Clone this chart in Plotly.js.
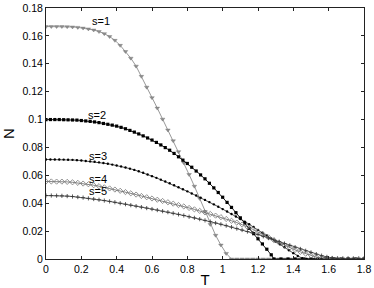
<!DOCTYPE html>
<html><head><meta charset="utf-8">
<script src="https://cdn.plot.ly/plotly-3.0.1.min.js"></script>
<style>html,body{margin:0;padding:0;background:#fff;}#chart{width:374px;height:288px;}</style>
</head><body><div id="chart"></div>
<script>
// s = 1
const T1 = [0,0.03,0.06,0.09,0.12,0.15,0.18,0.21,0.24,0.27,0.30,0.33,0.36,0.39,0.42,0.45,0.48,0.51,0.54,0.57,0.60,0.63,0.66,0.69,0.72,0.75,0.78,0.81,0.84,0.87,0.90,0.93,0.96,0.99,1.02,1.05,1.08,1.11,1.14,1.17,1.20,1.23,1.26,1.29,1.32,1.35,1.38,1.41,1.44,1.47,1.50,1.53,1.56,1.59,1.62,1.65,1.68,1.71,1.74,1.77,1.80];
const N1 = [0.1667,0.1667,0.1667,0.1667,0.1666,0.1664,0.1661,0.1656,0.1650,0.1642,0.1631,0.1616,0.1595,0.1568,0.1532,0.1488,0.1440,0.1383,0.1310,0.1232,0.1157,0.1082,0.1003,0.0925,0.0848,0.0770,0.0690,0.0606,0.0522,0.0434,0.0340,0.0248,0.0170,0.0100,0.0040,0,0,0,0,0,0,0,0,0,0,0,0,0,0,0,0,0,0,0,0,0,0,0,0,0,0];
// s = 2
const T2 = [0,0.025,0.05,0.075,0.1,0.125,0.15,0.175,0.2,0.225,0.25,0.275,0.3,0.325,0.35,0.375,0.4,0.425,0.45,0.475,0.5,0.525,0.55,0.575,0.6,0.625,0.65,0.675,0.7,0.725,0.75,0.775,0.8,0.825,0.85,0.875,0.9,0.925,0.95,0.975,1.0,1.025,1.05,1.075,1.1,1.125,1.15,1.175,1.2,1.225,1.25,1.275,1.29,1.33,1.37,1.41,1.46,1.50,1.54,1.58,1.63,1.67,1.71,1.75,1.80];
const N2 = [0.1000,0.1000,0.1000,0.1000,0.0999,0.0998,0.0997,0.0996,0.0993,0.0990,0.0987,0.0983,0.0978,0.0972,0.0966,0.0960,0.0953,0.0944,0.0934,0.0922,0.0910,0.0897,0.0883,0.0868,0.0853,0.0836,0.0818,0.0799,0.0780,0.0757,0.0733,0.0709,0.0685,0.0658,0.0631,0.0603,0.0575,0.0543,0.0510,0.0477,0.0443,0.0406,0.0370,0.0332,0.0295,0.0258,0.0220,0.0182,0.0145,0.0108,0.0070,0.0030,0,0,0,0,0,0,0,0,0,0,0,0,0];
// s = 3
const T3 = [0,0.025,0.05,0.075,0.1,0.125,0.15,0.175,0.2,0.225,0.25,0.275,0.3,0.325,0.35,0.375,0.4,0.425,0.45,0.475,0.5,0.525,0.55,0.575,0.6,0.625,0.65,0.675,0.7,0.725,0.75,0.775,0.8,0.825,0.85,0.875,0.9,0.925,0.95,0.975,1.0,1.025,1.05,1.075,1.1,1.125,1.15,1.175,1.2,1.225,1.25,1.275,1.3,1.325,1.35,1.375,1.4,1.425,1.45,1.475,1.52,1.56,1.60,1.64,1.68,1.72,1.76,1.80];
const N3 = [0.0714,0.0714,0.0714,0.0714,0.0713,0.0712,0.0711,0.0709,0.0706,0.0703,0.0700,0.0697,0.0693,0.0688,0.0683,0.0677,0.0671,0.0664,0.0656,0.0648,0.0639,0.0629,0.0618,0.0606,0.0594,0.0582,0.0569,0.0556,0.0543,0.0529,0.0515,0.0500,0.0485,0.0470,0.0455,0.0440,0.0424,0.0408,0.0392,0.0375,0.0358,0.0341,0.0323,0.0305,0.0287,0.0268,0.0249,0.0229,0.0209,0.0189,0.0168,0.0147,0.0126,0.0105,0.0084,0.0063,0.0042,0.0022,0.0005,0,0,0,0,0,0,0,0,0];
// s = 4
const T4 = [0,0.03,0.06,0.09,0.12,0.15,0.18,0.21,0.24,0.27,0.30,0.33,0.36,0.39,0.42,0.45,0.48,0.51,0.54,0.57,0.60,0.63,0.66,0.69,0.72,0.75,0.78,0.81,0.84,0.87,0.90,0.93,0.96,0.99,1.02,1.05,1.08,1.11,1.14,1.17,1.20,1.23,1.26,1.29,1.32,1.35,1.38,1.41,1.44,1.47,1.50,1.53,1.56,1.59,1.62,1.65,1.68,1.71,1.74,1.77,1.80];
const N4 = [0.0556,0.0556,0.0555,0.0555,0.0553,0.0550,0.0546,0.0541,0.0536,0.0529,0.0522,0.0514,0.0506,0.0498,0.0489,0.0480,0.0471,0.0462,0.0452,0.0443,0.0434,0.0425,0.0416,0.0407,0.0397,0.0387,0.0377,0.0366,0.0356,0.0345,0.0334,0.0323,0.0311,0.0300,0.0287,0.0274,0.0261,0.0247,0.0230,0.0213,0.0195,0.0175,0.0155,0.0135,0.0116,0.0098,0.0081,0.0065,0.0051,0.0038,0.0026,0.0014,0.0007,0.0002,0,0,0,0,0,0,0];
// s = 5
const T5 = [0,0.03,0.06,0.09,0.12,0.15,0.18,0.21,0.24,0.27,0.30,0.33,0.36,0.39,0.42,0.45,0.48,0.51,0.54,0.57,0.60,0.63,0.66,0.69,0.72,0.75,0.78,0.81,0.84,0.87,0.90,0.93,0.96,0.99,1.02,1.05,1.08,1.11,1.14,1.17,1.20,1.23,1.26,1.29,1.32,1.35,1.38,1.41,1.44,1.47,1.50,1.53,1.56,1.59,1.62,1.65,1.68,1.71,1.74,1.77,1.80];
const N5 = [0.0455,0.0455,0.0454,0.0453,0.0451,0.0448,0.0444,0.0440,0.0435,0.0430,0.0425,0.0419,0.0413,0.0407,0.0400,0.0393,0.0386,0.0379,0.0372,0.0365,0.0358,0.0351,0.0343,0.0336,0.0328,0.0320,0.0312,0.0303,0.0295,0.0286,0.0277,0.0268,0.0258,0.0249,0.0239,0.0229,0.0218,0.0208,0.0197,0.0186,0.0175,0.0163,0.0150,0.0137,0.0124,0.0111,0.0098,0.0085,0.0072,0.0059,0.0047,0.0035,0.0024,0.0015,0.0007,0.0002,0,0,0,0,0];

const labels = ['s=1','s=2','s=3','s=4','s=5'];
const labelT = [0.31,0.29,0.295,0.295,0.295];
const labelN = [0.1705,0.1035,0.0740,0.0575,0.0485];

const font = 'Liberation Sans, Arial, Helvetica, sans-serif';
const traces = [
  {x:T1,y:N1,mode:'lines+markers',line:{color:'#8c8c8c',width:0.9},marker:{symbol:'triangle-down',size:4,color:'#8c8c8c',line:{color:'#777',width:0.4}}},
  {x:T2,y:N2,mode:'lines+markers',line:{color:'#000',width:0.9},marker:{symbol:'square',size:3.2,color:'#000'}},
  {x:T3,y:N3,mode:'lines+markers',line:{color:'#222',width:0.8},marker:{symbol:'circle',size:2.4,color:'#000'}},
  {x:T4,y:N4,mode:'lines+markers',line:{color:'#666',width:0.8},marker:{symbol:'diamond-open',size:4,color:'#777',line:{width:0.8}}},
  {x:T5,y:N5,mode:'lines+markers',line:{color:'#333',width:0.8},marker:{symbol:'cross-thin-open',size:3,color:'#333',line:{width:0.8}}}
];
const annotations = labels.map((t,i)=>({x:labelT[i],y:labelN[i],xref:'x',yref:'y',text:t,showarrow:false,xanchor:'center',yanchor:'middle',font:{family:font,size:11,color:'#000'}}));
const axisCommon = {showgrid:false,zeroline:false,showline:true,linecolor:'#222',linewidth:1,mirror:'ticks',ticks:'inside',ticklen:3,tickcolor:'#222',tickfont:{family:font,size:10.5,color:'#000'}};
const layout = {
  width:374,height:288,margin:{l:46,r:10,t:8,b:29},
  paper_bgcolor:'#fff',plot_bgcolor:'#fff',showlegend:false,
  xaxis:Object.assign({},axisCommon,{range:[0,1.8],tick0:0,dtick:0.2,title:{text:'T',font:{family:font,size:15,color:'#000'},standoff:2}}),
  yaxis:Object.assign({},axisCommon,{range:[0,0.18],tick0:0,dtick:0.02,title:{text:'N',font:{family:font,size:15,color:'#000'},standoff:4}}),
  annotations:annotations
};
Plotly.newPlot('chart',traces,layout,{staticPlot:true,displayModeBar:false});
</script></body></html>
